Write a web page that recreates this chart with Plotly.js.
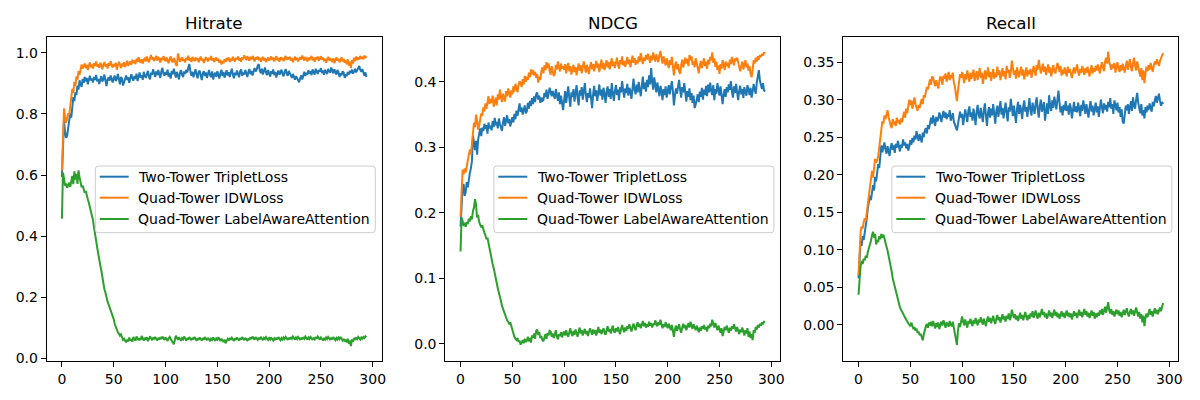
<!DOCTYPE html>
<html>
<head>
<meta charset="utf-8">
<script src="https://cdn.plot.ly/plotly-3.0.1.min.js"></script>
<style>html,body{margin:0;padding:0;background:#fff;}#chart{width:1200px;height:400px;}</style>
</head>
<body>
<div id="chart"></div>
<script>
const panelTitles = ["Hitrate", "NDCG", "Recall"];
const seriesNames = ["Two-Tower TripletLoss", "Quad-Tower IDWLoss", "Quad-Tower LabelAwareAttention"];
const xTickVals = [0, 50, 100, 150, 200, 250, 300];

const hitrateTwoTowerTriplet = [
0.594,0.700,0.778,0.742,0.722,0.728,0.751,0.779,0.802,0.788,
0.836,0.855,0.842,0.871,0.862,0.893,0.880,0.910,0.897,0.889,
0.915,0.902,0.921,0.906,0.918,0.897,0.912,0.925,0.909,0.916,
0.903,0.921,0.911,0.928,0.907,0.915,0.898,0.917,0.924,0.906,
0.913,0.929,0.905,0.891,0.912,0.920,0.909,0.926,0.914,0.903,
0.918,0.925,0.908,0.915,0.931,0.912,0.897,0.921,0.916,0.893,
0.905,0.918,0.926,0.911,0.920,0.902,0.914,0.930,0.917,0.909,
0.924,0.915,0.932,0.908,0.921,0.936,0.919,0.927,0.912,0.938,
0.925,0.918,0.931,0.941,0.922,0.913,0.935,0.928,0.946,0.930,
0.921,0.939,0.927,0.944,0.933,0.918,0.940,0.951,0.932,0.925,
0.937,0.929,0.945,0.922,0.934,0.916,0.941,0.930,0.948,0.927,
0.919,0.938,0.926,0.913,0.935,0.944,0.928,0.921,0.939,0.931,
0.945,0.936,0.952,0.963,0.940,0.925,0.938,0.920,0.934,0.946,
0.929,0.917,0.937,0.942,0.926,0.911,0.933,0.940,0.924,0.936,
0.918,0.930,0.944,0.927,0.921,0.939,0.913,0.928,0.935,0.922,
0.940,0.929,0.916,0.933,0.945,0.924,0.938,0.919,0.931,0.943,
0.926,0.937,0.921,0.934,0.948,0.930,0.917,0.935,0.927,0.942,
0.931,0.920,0.939,0.946,0.925,0.936,0.929,0.944,0.933,0.921,
0.938,0.947,0.930,0.941,0.926,0.936,0.950,0.939,0.945,0.958,
0.963,0.942,0.934,0.948,0.929,0.940,0.952,0.936,0.927,0.944,
0.935,0.922,0.940,0.931,0.946,0.927,0.938,0.919,0.933,0.942,
0.928,0.937,0.945,0.930,0.923,0.939,0.947,0.932,0.925,0.941,
0.934,0.926,0.918,0.931,0.920,0.912,0.924,0.915,0.909,0.904,
0.917,0.926,0.913,0.930,0.938,0.924,0.935,0.929,0.943,0.932,
0.940,0.927,0.946,0.935,0.929,0.948,0.937,0.931,0.944,0.939,
0.950,0.934,0.942,0.928,0.945,0.938,0.931,0.947,0.940,0.935,
0.952,0.941,0.933,0.946,0.938,0.929,0.944,0.936,0.921,0.933,
0.927,0.940,0.935,0.918,0.930,0.924,0.937,0.929,0.941,0.934,
0.945,0.932,0.939,0.948,0.936,0.943,0.951,0.957,0.944,0.938,
0.947,0.931,0.925,0.936,0.921];

const hitrateQuadTowerIDW = [
0.615,0.735,0.818,0.792,0.771,0.785,0.802,0.796,0.831,0.858,
0.882,0.869,0.905,0.891,0.923,0.912,0.940,0.928,0.951,0.962,
0.948,0.957,0.965,0.950,0.961,0.944,0.958,0.969,0.953,0.962,
0.949,0.966,0.957,0.972,0.955,0.963,0.951,0.968,0.959,0.946,
0.961,0.970,0.955,0.964,0.949,0.967,0.958,0.973,0.960,0.952,
0.963,0.956,0.968,0.945,0.959,0.971,0.962,0.950,0.965,0.957,
0.969,0.954,0.962,0.974,0.958,0.966,0.972,0.961,0.978,0.967,
0.975,0.963,0.981,0.970,0.986,0.974,0.968,0.979,0.965,0.977,
0.984,0.972,0.988,0.976,0.969,0.982,0.993,0.978,0.986,0.973,
0.981,0.990,0.975,0.987,0.979,0.968,0.984,0.976,0.989,0.980,
0.972,0.985,0.977,0.966,0.981,0.988,0.974,0.969,0.983,0.976,
0.962,0.957,0.998,0.985,0.971,0.979,0.986,0.973,0.980,0.969,
0.984,0.977,0.991,0.975,0.982,0.970,0.987,0.979,0.973,0.985,
0.976,0.983,0.969,0.980,0.988,0.974,0.981,0.967,0.978,0.986,
0.979,0.972,0.984,0.977,0.990,0.975,0.982,0.970,0.979,0.985,
0.974,0.981,0.968,0.977,0.962,0.973,0.966,0.979,0.971,0.983,
0.976,0.985,0.970,0.981,0.974,0.987,0.978,0.972,0.984,0.979,
0.988,0.975,0.982,0.971,0.986,0.979,0.992,0.983,0.976,0.989,
0.981,0.974,0.987,0.978,0.990,0.983,0.972,0.986,0.979,0.988,
0.976,0.984,0.971,0.980,0.987,0.975,0.983,0.970,0.979,0.985,
0.974,0.982,0.988,0.977,0.985,0.972,0.980,0.989,0.976,0.983,
0.971,0.986,0.978,0.984,0.973,0.981,0.990,0.977,0.985,0.979,
0.987,0.975,0.983,0.970,0.981,0.988,0.976,0.984,0.972,0.979,
0.986,0.978,0.991,0.982,0.975,0.987,0.980,0.972,0.985,0.977,
0.983,0.990,0.976,0.984,0.971,0.986,0.979,0.988,0.974,0.982,
0.989,0.978,0.985,0.973,0.981,0.968,0.979,0.987,0.975,0.983,
0.976,0.970,0.982,0.966,0.977,0.985,0.974,0.981,0.969,0.978,
0.986,0.972,0.980,0.968,0.975,0.963,0.979,0.958,0.971,0.950,
0.977,0.965,0.984,0.973,0.988,0.976,0.985,0.978,0.990,0.981,
0.987,0.979,0.991,0.984,0.989];

const hitrateQuadTowerLabelAware = [
0.457,0.608,0.590,0.565,0.572,0.558,0.566,0.575,0.561,0.580,
0.597,0.570,0.612,0.585,0.604,0.571,0.615,0.593,0.578,0.560,
0.566,0.555,0.542,0.548,0.530,0.521,0.509,0.496,0.487,0.468,
0.452,0.428,0.401,0.385,0.364,0.343,0.329,0.305,0.288,0.262,
0.247,0.226,0.215,0.198,0.186,0.177,0.168,0.159,0.151,0.137,
0.128,0.112,0.101,0.096,0.085,0.081,0.074,0.078,0.066,0.060,
0.064,0.057,0.052,0.061,0.055,0.068,0.058,0.063,0.054,0.070,
0.062,0.057,0.071,0.064,0.059,0.066,0.060,0.073,0.065,0.058,
0.067,0.061,0.069,0.056,0.063,0.072,0.066,0.059,0.068,0.062,
0.070,0.064,0.058,0.067,0.061,0.069,0.063,0.071,0.066,0.060,
0.068,0.062,0.057,0.065,0.070,0.063,0.059,0.052,0.046,0.061,
0.074,0.067,0.060,0.069,0.063,0.057,0.066,0.062,0.071,0.064,
0.058,0.066,0.061,0.069,0.064,0.059,0.067,0.062,0.070,0.063,
0.057,0.065,0.060,0.068,0.063,0.058,0.066,0.061,0.069,0.064,
0.059,0.067,0.062,0.056,0.064,0.060,0.068,0.063,0.057,0.065,
0.061,0.069,0.062,0.056,0.064,0.058,0.053,0.061,0.049,0.057,
0.063,0.058,0.066,0.060,0.067,0.062,0.057,0.065,0.060,0.068,
0.063,0.058,0.066,0.061,0.069,0.064,0.059,0.067,0.062,0.057,
0.065,0.060,0.068,0.063,0.071,0.066,0.061,0.069,0.064,0.060,
0.067,0.062,0.070,0.065,0.059,0.067,0.063,0.069,0.064,0.060,
0.066,0.061,0.068,0.063,0.058,0.065,0.060,0.067,0.062,0.069,
0.064,0.059,0.066,0.061,0.068,0.063,0.070,0.065,0.060,0.067,
0.062,0.069,0.064,0.071,0.066,0.061,0.068,0.063,0.070,0.065,
0.060,0.067,0.062,0.069,0.064,0.071,0.066,0.061,0.068,0.063,
0.070,0.065,0.060,0.067,0.062,0.069,0.064,0.071,0.066,0.061,
0.068,0.063,0.058,0.066,0.061,0.068,0.063,0.070,0.065,0.060,
0.067,0.062,0.069,0.064,0.059,0.066,0.061,0.068,0.063,0.070,
0.065,0.058,0.063,0.055,0.061,0.052,0.064,0.047,0.058,0.040,
0.062,0.054,0.066,0.060,0.068,0.063,0.070,0.065,0.061,0.068,
0.064,0.070,0.066,0.072,0.069];

const ndcgTwoTowerTriplet = [
0.179,0.205,0.238,0.244,0.226,0.232,0.247,0.239,0.252,0.261,
0.268,0.279,0.318,0.304,0.296,0.310,0.289,0.312,0.322,0.329,
0.317,0.330,0.325,0.336,0.328,0.334,0.321,0.338,0.329,0.333,
0.326,0.340,0.331,0.345,0.334,0.339,0.329,0.344,0.336,0.331,
0.325,0.338,0.346,0.333,0.341,0.349,0.337,0.343,0.332,0.340,
0.346,0.338,0.351,0.343,0.356,0.348,0.360,0.367,0.354,0.361,
0.350,0.357,0.364,0.352,0.355,0.368,0.359,0.371,0.363,0.375,
0.366,0.378,0.369,0.381,0.384,0.373,0.379,0.368,0.376,0.371,
0.372,0.383,0.377,0.388,0.374,0.381,0.391,0.385,0.378,0.386,
0.380,0.374,0.389,0.378,0.371,0.384,0.366,0.379,0.362,0.357,
0.372,0.386,0.368,0.381,0.393,0.375,0.362,0.384,0.377,0.389,
0.370,0.382,0.395,0.376,0.364,0.387,0.379,0.392,0.373,0.385,
0.398,0.380,0.369,0.383,0.376,0.390,0.374,0.360,0.381,0.394,
0.378,0.387,0.371,0.384,0.396,0.379,0.388,0.373,0.391,0.382,
0.368,0.385,0.393,0.377,0.389,0.374,0.398,0.383,0.371,0.386,
0.395,0.380,0.388,0.372,0.392,0.384,0.401,0.387,0.376,0.390,
0.383,0.397,0.379,0.391,0.386,0.374,0.393,0.405,0.388,0.381,
0.396,0.384,0.400,0.390,0.378,0.394,0.408,0.389,0.399,0.385,
0.403,0.392,0.410,0.396,0.421,0.401,0.388,0.407,0.395,0.384,
0.399,0.391,0.378,0.394,0.386,0.372,0.389,0.380,0.393,0.376,
0.387,0.395,0.381,0.392,0.401,0.386,0.364,0.379,0.390,0.382,
0.396,0.403,0.388,0.376,0.392,0.384,0.398,0.379,0.370,0.386,
0.377,0.390,0.372,0.383,0.368,0.379,0.360,0.365,0.374,0.381,
0.369,0.385,0.377,0.391,0.373,0.388,0.380,0.394,0.378,0.396,
0.384,0.399,0.387,0.380,0.395,0.372,0.389,0.382,0.398,0.386,
0.379,0.393,0.375,0.366,0.381,0.389,0.377,0.392,0.384,0.396,
0.388,0.401,0.385,0.376,0.393,0.383,0.397,0.378,0.372,0.386,
0.394,0.381,0.389,0.375,0.392,0.384,0.379,0.395,0.387,0.380,
0.391,0.376,0.385,0.397,0.388,0.382,0.399,0.407,0.418,0.402,
0.395,0.389,0.398,0.387,0.385];

const ndcgQuadTowerIDW = [
0.194,0.248,0.266,0.259,0.268,0.262,0.271,0.278,0.284,0.297,
0.289,0.305,0.327,0.338,0.331,0.350,0.341,0.327,0.333,0.345,
0.352,0.348,0.361,0.355,0.367,0.359,0.372,0.378,0.366,0.374,
0.368,0.379,0.362,0.371,0.376,0.364,0.381,0.373,0.388,0.377,
0.369,0.382,0.375,0.370,0.386,0.378,0.390,0.383,0.376,0.387,
0.381,0.393,0.385,0.397,0.389,0.384,0.395,0.401,0.398,0.392,
0.404,0.396,0.409,0.400,0.408,0.403,0.414,0.407,0.419,0.411,
0.418,0.410,0.415,0.406,0.412,0.399,0.408,0.403,0.416,0.422,
0.413,0.425,0.418,0.430,0.421,0.428,0.417,0.411,0.424,0.415,
0.409,0.412,0.426,0.419,0.431,0.422,0.416,0.428,0.420,0.424,
0.418,0.427,0.413,0.422,0.429,0.416,0.424,0.411,0.419,0.426,
0.415,0.423,0.410,0.421,0.428,0.417,0.425,0.413,0.420,0.431,
0.422,0.414,0.426,0.418,0.412,0.424,0.430,0.419,0.427,0.416,
0.423,0.432,0.421,0.428,0.415,0.426,0.434,0.420,0.429,0.418,
0.425,0.433,0.422,0.430,0.419,0.427,0.436,0.424,0.431,0.421,
0.428,0.437,0.426,0.420,0.433,0.427,0.439,0.425,0.432,0.423,
0.430,0.438,0.427,0.434,0.422,0.431,0.440,0.429,0.436,0.426,
0.433,0.428,0.439,0.431,0.444,0.435,0.427,0.437,0.432,0.441,
0.434,0.443,0.436,0.429,0.440,0.433,0.445,0.438,0.431,0.442,
0.436,0.430,0.441,0.447,0.437,0.428,0.439,0.432,0.425,0.436,
0.429,0.421,0.433,0.426,0.438,0.420,0.410,0.424,0.431,0.419,
0.427,0.416,0.412,0.425,0.434,0.422,0.430,0.437,0.428,0.435,
0.424,0.441,0.433,0.439,0.426,0.431,0.422,0.436,0.429,0.418,
0.413,0.425,0.432,0.421,0.428,0.436,0.424,0.431,0.420,0.434,
0.427,0.438,0.433,0.445,0.429,0.436,0.423,0.431,0.418,0.425,
0.412,0.427,0.420,0.433,0.426,0.418,0.431,0.424,0.429,0.421,
0.434,0.427,0.438,0.430,0.425,0.436,0.432,0.437,0.429,0.421,
0.416,0.424,0.431,0.419,0.426,0.433,0.422,0.428,0.417,0.424,
0.412,0.407,0.419,0.433,0.428,0.437,0.431,0.439,0.434,0.441,
0.438,0.443,0.440,0.445,0.443];

const ndcgQuadTowerLabelAware = [
0.141,0.193,0.188,0.180,0.185,0.179,0.186,0.183,0.191,0.187,
0.195,0.190,0.203,0.208,0.221,0.212,0.193,0.197,0.186,0.182,
0.178,0.181,0.174,0.170,0.166,0.160,0.162,0.153,0.146,0.141,
0.130,0.122,0.116,0.107,0.098,0.094,0.085,0.078,0.073,0.066,
0.058,0.053,0.049,0.044,0.040,0.036,0.034,0.031,0.033,0.027,
0.019,0.015,0.011,0.008,0.006,0.009,0.003,0.005,-0.001,0.002,
0.006,0.001,0.008,0.003,0.005,0.011,0.004,0.009,0.002,0.013,
0.010,0.016,0.008,0.020,0.022,0.014,0.018,0.009,0.012,0.006,
0.004,0.010,0.015,0.008,0.017,0.013,0.020,0.019,0.011,0.016,
0.009,0.014,0.021,0.011,0.007,0.015,0.012,0.018,0.010,0.016,
0.019,0.013,0.021,0.015,0.011,0.018,0.024,0.016,0.012,0.020,
0.014,0.022,0.017,0.011,0.019,0.025,0.016,0.021,0.013,0.018,
0.023,0.015,0.020,0.012,0.017,0.024,0.019,0.014,0.022,0.016,
0.021,0.013,0.019,0.026,0.017,0.022,0.015,0.020,0.024,0.018,
0.014,0.021,0.027,0.019,0.023,0.016,0.022,0.028,0.020,0.017,
0.024,0.019,0.026,0.021,0.015,0.023,0.029,0.022,0.018,0.025,
0.020,0.027,0.023,0.030,0.024,0.019,0.026,0.031,0.025,0.021,
0.028,0.033,0.026,0.031,0.024,0.029,0.035,0.027,0.032,0.025,
0.030,0.026,0.034,0.028,0.032,0.025,0.031,0.029,0.036,0.030,
0.027,0.033,0.029,0.037,0.031,0.024,0.030,0.026,0.033,0.028,
0.024,0.031,0.026,0.021,0.029,0.019,0.011,0.023,0.028,0.020,
0.026,0.030,0.022,0.017,0.025,0.031,0.024,0.029,0.021,0.027,
0.032,0.025,0.034,0.028,0.023,0.030,0.026,0.021,0.028,0.024,
0.018,0.025,0.020,0.027,0.023,0.029,0.022,0.026,0.019,0.028,
0.024,0.031,0.027,0.037,0.029,0.025,0.032,0.026,0.021,0.028,
0.023,0.017,0.024,0.012,0.019,0.026,0.021,0.028,0.022,0.017,
0.025,0.020,0.027,0.023,0.030,0.024,0.019,0.026,0.021,0.015,
0.022,0.018,0.025,0.020,0.013,0.021,0.016,0.024,0.011,0.019,
0.009,0.015,0.006,0.021,0.017,0.026,0.022,0.029,0.025,0.031,
0.028,0.033,0.030,0.034,0.033];

const recallTwoTowerTriplet = [
0.062,0.094,0.112,0.105,0.118,0.113,0.121,0.130,0.142,0.155,
0.163,0.172,0.166,0.181,0.186,0.179,0.197,0.191,0.206,0.214,
0.209,0.226,0.239,0.230,0.236,0.243,0.234,0.228,0.238,0.231,
0.225,0.237,0.242,0.233,0.239,0.229,0.241,0.236,0.245,0.238,
0.231,0.240,0.236,0.247,0.239,0.243,0.235,0.241,0.232,0.238,
0.246,0.240,0.249,0.243,0.252,0.247,0.258,0.251,0.245,0.254,
0.249,0.243,0.256,0.250,0.259,0.262,0.255,0.266,0.261,0.270,
0.276,0.268,0.279,0.272,0.265,0.277,0.271,0.274,0.283,0.278,
0.270,0.279,0.285,0.276,0.283,0.274,0.281,0.277,0.286,0.272,
0.276,0.282,0.271,0.268,0.263,0.259,0.270,0.278,0.284,0.276,
0.281,0.266,0.274,0.287,0.279,0.270,0.285,0.291,0.277,0.283,
0.272,0.288,0.279,0.266,0.284,0.293,0.280,0.275,0.289,0.282,
0.270,0.286,0.295,0.278,0.265,0.283,0.290,0.276,0.288,0.279,
0.294,0.281,0.268,0.285,0.292,0.277,0.286,0.298,0.280,0.289,
0.275,0.287,0.296,0.282,0.271,0.290,0.284,0.301,0.286,0.278,
0.292,0.283,0.269,0.288,0.297,0.281,0.293,0.286,0.274,0.291,
0.299,0.284,0.290,0.277,0.294,0.302,0.285,0.279,0.296,0.288,
0.281,0.295,0.303,0.287,0.276,0.292,0.300,0.284,0.290,0.297,
0.272,0.288,0.295,0.281,0.306,0.291,0.285,0.299,0.289,0.304,
0.294,0.287,0.300,0.312,0.296,0.283,0.291,0.279,0.293,0.286,
0.298,0.285,0.292,0.280,0.295,0.289,0.275,0.290,0.297,0.284,
0.291,0.283,0.296,0.288,0.278,0.293,0.285,0.299,0.287,0.281,
0.294,0.286,0.276,0.290,0.298,0.284,0.292,0.279,0.288,0.296,
0.283,0.291,0.277,0.286,0.300,0.289,0.282,0.295,0.287,0.293,
0.284,0.297,0.290,0.302,0.288,0.294,0.281,0.299,0.291,0.286,
0.296,0.283,0.290,0.277,0.287,0.271,0.268,0.284,0.292,0.286,
0.294,0.281,0.289,0.298,0.285,0.303,0.292,0.288,0.300,0.309,
0.296,0.288,0.282,0.294,0.279,0.286,0.275,0.290,0.283,0.292,
0.286,0.295,0.289,0.284,0.297,0.291,0.299,0.305,0.296,0.303,
0.308,0.299,0.292,0.297,0.294];

const recallQuadTowerIDW = [
0.066,0.109,0.124,0.131,0.128,0.137,0.142,0.139,0.150,0.163,
0.177,0.186,0.199,0.205,0.196,0.212,0.221,0.216,0.219,0.225,
0.236,0.249,0.262,0.271,0.268,0.279,0.274,0.283,0.286,0.277,
0.270,0.266,0.262,0.274,0.267,0.271,0.265,0.276,0.269,0.273,
0.267,0.275,0.270,0.279,0.284,0.276,0.288,0.282,0.291,0.300,
0.293,0.299,0.288,0.297,0.303,0.294,0.290,0.285,0.293,0.289,
0.296,0.301,0.294,0.306,0.303,0.311,0.317,0.314,0.322,0.327,
0.320,0.331,0.329,0.324,0.318,0.326,0.321,0.315,0.325,0.331,
0.327,0.320,0.332,0.328,0.335,0.324,0.330,0.337,0.326,0.333,
0.329,0.336,0.323,0.318,0.307,0.298,0.312,0.327,0.334,0.329,
0.337,0.330,0.322,0.334,0.327,0.339,0.331,0.324,0.336,0.328,
0.333,0.340,0.325,0.331,0.338,0.326,0.334,0.342,0.329,0.336,
0.321,0.332,0.339,0.327,0.335,0.343,0.330,0.337,0.325,0.334,
0.341,0.328,0.336,0.330,0.344,0.333,0.339,0.326,0.335,0.342,
0.331,0.338,0.327,0.345,0.336,0.340,0.329,0.337,0.352,0.341,
0.333,0.339,0.328,0.343,0.335,0.330,0.338,0.344,0.332,0.340,
0.327,0.336,0.343,0.331,0.339,0.334,0.341,0.329,0.337,0.345,
0.338,0.332,0.346,0.340,0.353,0.343,0.335,0.342,0.348,0.337,
0.344,0.333,0.339,0.347,0.336,0.343,0.331,0.340,0.346,0.338,
0.335,0.342,0.349,0.344,0.337,0.345,0.332,0.340,0.334,0.343,
0.338,0.331,0.344,0.336,0.341,0.334,0.329,0.338,0.343,0.335,
0.340,0.347,0.337,0.332,0.341,0.336,0.345,0.339,0.333,0.342,
0.336,0.344,0.338,0.331,0.340,0.346,0.335,0.342,0.337,0.345,
0.339,0.347,0.341,0.335,0.344,0.350,0.343,0.338,0.351,0.356,
0.348,0.364,0.351,0.345,0.340,0.347,0.342,0.349,0.336,0.344,
0.350,0.341,0.337,0.346,0.339,0.348,0.343,0.336,0.345,0.352,
0.340,0.347,0.354,0.343,0.338,0.349,0.356,0.345,0.339,0.351,
0.344,0.337,0.331,0.342,0.326,0.339,0.322,0.335,0.344,0.338,
0.346,0.340,0.349,0.343,0.337,0.345,0.351,0.347,0.354,0.349,
0.345,0.352,0.356,0.359,0.362];

const recallQuadTowerLabelAware = [
0.040,0.066,0.078,0.085,0.081,0.088,0.086,0.092,0.089,0.097,
0.101,0.106,0.112,0.119,0.124,0.116,0.121,0.107,0.113,0.110,
0.118,0.114,0.121,0.116,0.120,0.115,0.111,0.104,0.099,0.093,
0.087,0.079,0.071,0.062,0.056,0.050,0.043,0.038,0.031,0.026,
0.023,0.020,0.018,0.015,0.012,0.009,0.006,0.004,0.002,0.000,
-0.002,0.003,-0.004,-0.006,-0.003,-0.008,-0.005,-0.011,-0.009,-0.014,
-0.012,-0.017,-0.021,-0.013,-0.006,-0.002,0.001,-0.004,0.003,-0.001,
0.004,-0.002,0.005,0.001,-0.005,0.002,-0.003,0.003,-0.006,0.000,
0.004,-0.001,0.006,0.002,-0.004,0.003,0.001,-0.003,0.005,0.000,
-0.002,0.004,-0.005,-0.011,-0.019,-0.027,-0.008,0.002,-0.003,0.006,
0.011,0.004,-0.001,0.007,0.002,-0.004,0.005,0.001,0.008,0.003,
-0.002,0.006,0.001,0.009,0.004,-0.001,0.007,0.003,0.010,0.005,
0.000,0.008,0.003,-0.002,0.006,0.011,0.004,0.009,0.002,0.007,
0.012,0.005,0.001,0.008,0.013,0.006,0.010,0.003,0.009,0.014,
0.007,0.011,0.004,0.012,0.008,0.015,0.006,0.010,0.020,0.013,
0.009,0.014,0.007,0.012,0.005,0.010,0.016,0.008,0.013,0.006,
0.011,0.017,0.010,0.006,0.013,0.008,0.015,0.011,0.018,0.009,
0.014,0.019,0.012,0.008,0.016,0.010,0.015,0.021,0.013,0.017,
0.010,0.015,0.008,0.013,0.019,0.011,0.016,0.009,0.014,0.020,
0.012,0.017,0.010,0.015,0.008,0.013,0.018,0.011,0.016,0.009,
0.014,0.019,0.011,0.016,0.010,0.015,0.007,0.013,0.018,0.012,
0.016,0.009,0.014,0.020,0.012,0.017,0.010,0.015,0.021,0.013,
0.018,0.011,0.016,0.009,0.014,0.019,0.012,0.017,0.008,0.015,
0.010,0.016,0.012,0.019,0.014,0.021,0.013,0.018,0.024,0.016,
0.022,0.030,0.019,0.015,0.021,0.013,0.018,0.011,0.016,0.020,
0.014,0.019,0.012,0.017,0.010,0.015,0.020,0.013,0.018,0.022,
0.015,0.011,0.017,0.021,0.014,0.019,0.012,0.018,0.023,0.016,
0.011,0.017,0.008,0.014,0.003,0.012,-0.002,0.009,0.015,0.010,
0.016,0.021,0.013,0.018,0.011,0.017,0.022,0.015,0.020,0.014,
0.019,0.023,0.018,0.025,0.029];

const epochs = hitrateTwoTowerTriplet.map((_, i) => i);
const colors = ["#1f77b4", "#ff7f0e", "#2ca02c"];
const panels = [
  {series: [hitrateTwoTowerTriplet, hitrateQuadTowerIDW, hitrateQuadTowerLabelAware], yr: [-0.009, 1.051], fmt: ".1f", dtick: 0.2},
  {series: [ndcgTwoTowerTriplet, ndcgQuadTowerIDW, ndcgQuadTowerLabelAware], yr: [-0.026, 0.468], fmt: ".1f", dtick: 0.1},
  {series: [recallTwoTowerTriplet, recallQuadTowerIDW, recallQuadTowerLabelAware], yr: [-0.0484, 0.3832], fmt: ".2f", dtick: 0.05}
];
const W = 1200, H = 400;
const spineLeft = [46.7, 445.3, 843.3];
const spineWidth = 335;
const xDomains = spineLeft.map(l => [l / W, (l + spineWidth) / W]);
const yDomain = [1 - 361 / H, 1 - 37.3 / H];

const font = {family: "DejaVu Sans, sans-serif", size: 14, color: "#000"};
const px = v => v / W;
const py = v => 1 - v / H;
const traces = [];
const layout = {
  width: W, height: H,
  margin: {l: 0, r: 0, t: 0, b: 0},
  paper_bgcolor: "#fff", plot_bgcolor: "#fff",
  font: font,
  annotations: [],
  shapes: [],
  showlegend: false
};

function roundedRectPath(x0, y0, x1, y1, r) {
  const X = v => px(v).toFixed(5), Y = v => py(v).toFixed(5);
  return "M " + X(x0 + r) + "," + Y(y0) +
    " L " + X(x1 - r) + "," + Y(y0) +
    " Q " + X(x1) + "," + Y(y0) + " " + X(x1) + "," + Y(y0 + r) +
    " L " + X(x1) + "," + Y(y1 - r) +
    " Q " + X(x1) + "," + Y(y1) + " " + X(x1 - r) + "," + Y(y1) +
    " L " + X(x0 + r) + "," + Y(y1) +
    " Q " + X(x0) + "," + Y(y1) + " " + X(x0) + "," + Y(y1 - r) +
    " L " + X(x0) + "," + Y(y0 + r) +
    " Q " + X(x0) + "," + Y(y0) + " " + X(x0 + r) + "," + Y(y0) + " Z";
}

panels.forEach((p, k) => {
  const sfx = k === 0 ? "" : String(k + 1);
  p.series.forEach((vals, j) => {
    traces.push({
      x: epochs, y: vals, type: "scatter", mode: "lines",
      name: seriesNames[j],
      line: {color: colors[j], width: 2},
      xaxis: "x" + sfx, yaxis: "y" + sfx
    });
  });
  const axCommon = {
    showline: true, linecolor: "#000", linewidth: 1, mirror: true,
    ticks: "outside", ticklen: 5, tickwidth: 1, tickcolor: "#000",
    showgrid: false, zeroline: false, tickfont: font
  };
  layout["xaxis" + sfx] = Object.assign({}, axCommon, {
    domain: xDomains[k], range: [-14.7, 308.7], anchor: "y" + sfx,
    tickmode: "array", tickvals: xTickVals
  });
  layout["yaxis" + sfx] = Object.assign({}, axCommon, {
    domain: yDomain, range: p.yr, anchor: "x" + sfx,
    tick0: 0, dtick: p.dtick, tickformat: p.fmt
  });

  // legend (drawn like matplotlib's, inside the axes at centre right)
  const off = spineLeft[k] - spineLeft[0];
  const bx0 = 95.3 + off, bx1 = 375.3 + off, by0 = 166, by1 = 232.7;
  layout.shapes.push({
    type: "path", xref: "paper", yref: "paper", layer: "above",
    path: roundedRectPath(bx0, by0, bx1, by1, 3),
    fillcolor: "rgba(255,255,255,0.8)",
    line: {color: "#cccccc", width: 1}
  });
  const rowY = [176.7, 197.7, 219.0];
  seriesNames.forEach((nm, j) => {
    layout.shapes.push({
      type: "line", xref: "paper", yref: "paper", layer: "above",
      x0: px(99.7 + off), x1: px(128.7 + off), y0: py(rowY[j]), y1: py(rowY[j]),
      line: {color: colors[j], width: 2}
    });
    layout.annotations.push({
      text: nm, xref: "paper", yref: "paper",
      x: px(137.2 + off), y: py(rowY[j] + 0.5), xanchor: "left", yanchor: "middle",
      showarrow: false, font: font, borderpad: 0
    });
  });

  layout.annotations.push({
    text: panelTitles[k], xref: "paper", yref: "paper",
    x: (xDomains[k][0] + xDomains[k][1]) / 2, y: py(22.5),
    xanchor: "center", yanchor: "middle", showarrow: false,
    font: {family: "DejaVu Sans, sans-serif", size: 16.7, color: "#000"}
  });
});
Plotly.newPlot("chart", traces, layout, {displayModeBar: false, staticPlot: true});
</script>
</body>
</html>
